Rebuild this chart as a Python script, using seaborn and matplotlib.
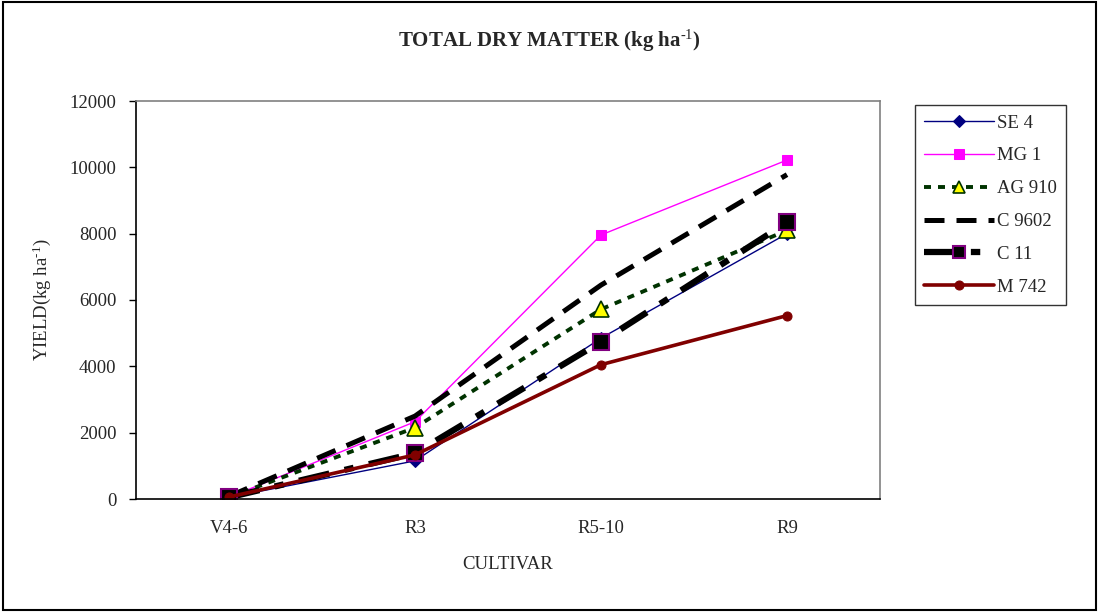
import matplotlib
matplotlib.use("Agg")
import matplotlib.pyplot as plt
import seaborn as sns
import pandas as pd
from matplotlib.patches import Rectangle

stages = ["V4-6", "R3", "R5-10", "R9"]
se4 = [50, 1150, 4850, 8000]
mg1 = [50, 2330, 7960, 10220]
ag910 = [50, 2150, 5720, 8100]
c9602 = [80, 2500, 6450, 9780]
c11 = [50, 1380, 4740, 8340]
m742 = [60, 1330, 4050, 5530]

series_names = ["SE 4", "MG 1", "AG 910", "C 9602", "C 11", "M 742"]
series_vals = [se4, mg1, ag910, c9602, c11, m742]

sns.set_style("white")
plt.rcParams["font.family"] = ["Liberation Serif", "DejaVu Serif"]
plt.rcParams["mathtext.fontset"] = "custom"
plt.rcParams["mathtext.rm"] = "Liberation Serif"
plt.rcParams["mathtext.bf"] = "Liberation Serif:bold"
plt.rcParams["mathtext.it"] = "Liberation Serif:italic"

rows = []
for name, vals in zip(series_names, series_vals):
    for st, v in zip(stages, vals):
        rows.append({"series": name, "stage": st, "yield": v})
df = pd.DataFrame(rows)

styles = {
    "SE 4": dict(color="#000080", lw=1.0, marker="D", ms=6, mfc="#000080", mec="#000080", ls="-"),
    "MG 1": dict(color="#FF00FF", lw=1.0, marker="s", ms=6.5, mfc="#FF00FF", mec="#FF00FF", ls="-"),
    "AG 910": dict(color="#003300", lw=2.8, marker="^", ms=12, mfc="#FFFF00", mec="#003300", mew=1.2,
                   ls=(0, (1.8, 1.8))),
    "C 9602": dict(color="black", lw=3.6, marker=None, ls=(0, (4.0, 2.4))),
    "C 11": dict(color="black", lw=4.5, marker="s", ms=12, mfc="black", mec="#800080", mew=1.5,
                 ls=(0, (5, 2.5, 1.5, 2.5))),
    "M 742": dict(color="#800000", lw=2.6, marker="o", ms=6.5, mfc="#800000", mec="#800000", ls="-"),
}
legend_ms = {"AG 910": 9, "C 11": 8.5}

fig = plt.figure(figsize=(10.98, 6.12), dpi=100)
ax = fig.add_axes([136 / 1098, 1 - 499 / 612, (880 - 136) / 1098, (499 - 101) / 612])

for name in series_names:
    st = dict(styles[name])
    color = st.pop("color")
    lw = st.pop("lw")
    ls = st.pop("ls")
    sub = df[df["series"] == name]
    sns.lineplot(data=sub, x="stage", y="yield", ax=ax, color=color, linewidth=lw,
                 linestyle=ls, label=name, sort=False, errorbar=None, **st)

ax.set_xlim(-0.5, 3.5)
ax.set_ylim(0, 12000)
ax.set_yticks(range(0, 12001, 2000))
ax.set_xticks(range(4))
ax.set_xticklabels(stages)
ax.set_xticks([-0.5, 0.5, 1.5, 2.5, 3.5], minor=True)
ax.tick_params(axis="x", which="major", length=0, pad=15, labelsize=13.5)
ax.tick_params(axis="x", which="minor", length=4, direction="out", color="black", width=1)
ax.tick_params(axis="y", which="major", length=5, direction="out", color="black", width=1,
               pad=9, labelsize=13.5, left=True)

for s in ["top", "right"]:
    ax.spines[s].set_color("#808080")
    ax.spines[s].set_linewidth(1.2)
for s in ["left", "bottom"]:
    ax.spines[s].set_color("black")
    ax.spines[s].set_linewidth(1.2)

ax.set_xlabel("CULTIVAR", fontsize=13.5, labelpad=14)
ax.set_ylabel(r"YIELD(kg ha$^{\text{-1}}$)", fontsize=13.5, labelpad=12)

fig.text(549 / 1098, 1 - 41 / 612, r"TOTAL DRY MATTER (kg ha$^{\mathbf{\text{-1}}}$)",
         ha="center", va="center", fontsize=15, fontweight="bold")

handles, labels = ax.get_legend_handles_labels()
leg = ax.legend(handles, labels, loc="upper left",
                bbox_to_anchor=(915 / 1098, 1 - 105 / 612), bbox_transform=fig.transFigure,
                frameon=True, fancybox=False, shadow=False, fontsize=13.5,
                handlelength=3.7, labelspacing=0.84, borderpad=0.5, handletextpad=0.15,
                borderaxespad=0)
leg.get_frame().set_edgecolor("black")
leg.get_frame().set_linewidth(1.0)
for h, lab in zip(leg.legend_handles, labels):
    if lab in legend_ms:
        h.set_markersize(legend_ms[lab])

fig.patches.append(Rectangle((3 / 1098, 2 / 612), 1093 / 1098, 608 / 612, transform=fig.transFigure,
                             fill=False, edgecolor="black", linewidth=1.5))

fig.savefig("out.png", dpi=100)
